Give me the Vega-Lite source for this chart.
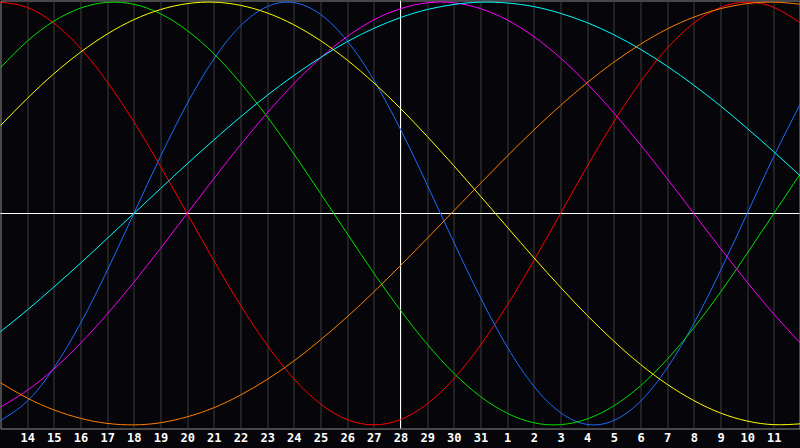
{
  "$schema": "https://vega.github.io/schema/vega-lite/v6.json",
  "width": 799,
  "height": 428,
  "autosize": {"type": "none"},
  "padding": {"left": 0.5, "top": 0.5, "right": 0.5, "bottom": 19.5},
  "background": "#060509",
  "config": {
    "view": {"stroke": "#8a8a8a", "strokeWidth": 1, "fill": "#060509"},
    "axisX": {"grid": true, "gridColor": "#3c3c3c", "gridWidth": 1, "gridOpacity": 1,
      "domain": false, "ticks": false, "title": null,
      "labelColor": "#ffffff", "labelFont": "DejaVu Sans Mono", "labelFontSize": 12, "labelFontWeight": "bold",
      "labelPadding": 4, "labelOverlap": false, "labelBound": false, "labelFlush": false}
  },
  "datasets": {
    "cycles": [
      {"cycle":"Emotional","d":0,"v":1},{"cycle":"Emotional","d":1,"v":0.975},{"cycle":"Emotional","d":2,"v":0.901},{"cycle":"Emotional","d":3,"v":0.782},{"cycle":"Emotional","d":4,"v":0.623},{"cycle":"Emotional","d":5,"v":0.434},{"cycle":"Emotional","d":6,"v":0.223},{"cycle":"Emotional","d":7,"v":0},{"cycle":"Emotional","d":8,"v":-0.223},{"cycle":"Emotional","d":9,"v":-0.434},{"cycle":"Emotional","d":10,"v":-0.623},{"cycle":"Emotional","d":11,"v":-0.782},{"cycle":"Emotional","d":12,"v":-0.901},{"cycle":"Emotional","d":13,"v":-0.975},{"cycle":"Emotional","d":14,"v":-1},{"cycle":"Emotional","d":15,"v":-0.975},{"cycle":"Emotional","d":16,"v":-0.901},{"cycle":"Emotional","d":17,"v":-0.782},{"cycle":"Emotional","d":18,"v":-0.623},{"cycle":"Emotional","d":19,"v":-0.434},{"cycle":"Emotional","d":20,"v":-0.223},{"cycle":"Emotional","d":21,"v":0},{"cycle":"Emotional","d":22,"v":0.223},{"cycle":"Emotional","d":23,"v":0.434},{"cycle":"Emotional","d":24,"v":0.623},{"cycle":"Emotional","d":25,"v":0.782},{"cycle":"Emotional","d":26,"v":0.901},{"cycle":"Emotional","d":27,"v":0.975},{"cycle":"Emotional","d":28,"v":1},{"cycle":"Emotional","d":29,"v":0.975},{"cycle":"Emotional","d":30,"v":0.901},
      {"cycle":"Physical","d":0,"v":-0.979},{"cycle":"Physical","d":1,"v":-0.888},{"cycle":"Physical","d":2,"v":-0.731},{"cycle":"Physical","d":3,"v":-0.52},{"cycle":"Physical","d":4,"v":-0.27},{"cycle":"Physical","d":5,"v":0},{"cycle":"Physical","d":6,"v":0.27},{"cycle":"Physical","d":7,"v":0.52},{"cycle":"Physical","d":8,"v":0.731},{"cycle":"Physical","d":9,"v":0.888},{"cycle":"Physical","d":10,"v":0.979},{"cycle":"Physical","d":11,"v":0.998},{"cycle":"Physical","d":12,"v":0.942},{"cycle":"Physical","d":13,"v":0.817},{"cycle":"Physical","d":14,"v":0.631},{"cycle":"Physical","d":15,"v":0.398},{"cycle":"Physical","d":16,"v":0.136},{"cycle":"Physical","d":17,"v":-0.136},{"cycle":"Physical","d":18,"v":-0.398},{"cycle":"Physical","d":19,"v":-0.631},{"cycle":"Physical","d":20,"v":-0.817},{"cycle":"Physical","d":21,"v":-0.942},{"cycle":"Physical","d":22,"v":-0.998},{"cycle":"Physical","d":23,"v":-0.979},{"cycle":"Physical","d":24,"v":-0.888},{"cycle":"Physical","d":25,"v":-0.731},{"cycle":"Physical","d":26,"v":-0.52},{"cycle":"Physical","d":27,"v":-0.27},{"cycle":"Physical","d":28,"v":0},{"cycle":"Physical","d":29,"v":0.27},{"cycle":"Physical","d":30,"v":0.52},
      {"cycle":"Intellectual","d":0,"v":0.69},{"cycle":"Intellectual","d":1,"v":0.815},{"cycle":"Intellectual","d":2,"v":0.91},{"cycle":"Intellectual","d":3,"v":0.972},{"cycle":"Intellectual","d":4,"v":0.999},{"cycle":"Intellectual","d":5,"v":0.99},{"cycle":"Intellectual","d":6,"v":0.945},{"cycle":"Intellectual","d":7,"v":0.866},{"cycle":"Intellectual","d":8,"v":0.756},{"cycle":"Intellectual","d":9,"v":0.618},{"cycle":"Intellectual","d":10,"v":0.458},{"cycle":"Intellectual","d":11,"v":0.282},{"cycle":"Intellectual","d":12,"v":0.095},{"cycle":"Intellectual","d":13,"v":-0.095},{"cycle":"Intellectual","d":14,"v":-0.282},{"cycle":"Intellectual","d":15,"v":-0.458},{"cycle":"Intellectual","d":16,"v":-0.618},{"cycle":"Intellectual","d":17,"v":-0.756},{"cycle":"Intellectual","d":18,"v":-0.866},{"cycle":"Intellectual","d":19,"v":-0.945},{"cycle":"Intellectual","d":20,"v":-0.99},{"cycle":"Intellectual","d":21,"v":-0.999},{"cycle":"Intellectual","d":22,"v":-0.972},{"cycle":"Intellectual","d":23,"v":-0.91},{"cycle":"Intellectual","d":24,"v":-0.815},{"cycle":"Intellectual","d":25,"v":-0.69},{"cycle":"Intellectual","d":26,"v":-0.541},{"cycle":"Intellectual","d":27,"v":-0.372},{"cycle":"Intellectual","d":28,"v":-0.189},{"cycle":"Intellectual","d":29,"v":0},{"cycle":"Intellectual","d":30,"v":0.189},
      {"cycle":"Intuitive","d":0,"v":-0.916},{"cycle":"Intuitive","d":1,"v":-0.837},{"cycle":"Intuitive","d":2,"v":-0.736},{"cycle":"Intuitive","d":3,"v":-0.614},{"cycle":"Intuitive","d":4,"v":-0.476},{"cycle":"Intuitive","d":5,"v":-0.325},{"cycle":"Intuitive","d":6,"v":-0.165},{"cycle":"Intuitive","d":7,"v":0},{"cycle":"Intuitive","d":8,"v":0.165},{"cycle":"Intuitive","d":9,"v":0.325},{"cycle":"Intuitive","d":10,"v":0.476},{"cycle":"Intuitive","d":11,"v":0.614},{"cycle":"Intuitive","d":12,"v":0.736},{"cycle":"Intuitive","d":13,"v":0.837},{"cycle":"Intuitive","d":14,"v":0.916},{"cycle":"Intuitive","d":15,"v":0.969},{"cycle":"Intuitive","d":16,"v":0.997},{"cycle":"Intuitive","d":17,"v":0.997},{"cycle":"Intuitive","d":18,"v":0.969},{"cycle":"Intuitive","d":19,"v":0.916},{"cycle":"Intuitive","d":20,"v":0.837},{"cycle":"Intuitive","d":21,"v":0.736},{"cycle":"Intuitive","d":22,"v":0.614},{"cycle":"Intuitive","d":23,"v":0.476},{"cycle":"Intuitive","d":24,"v":0.325},{"cycle":"Intuitive","d":25,"v":0.165},{"cycle":"Intuitive","d":26,"v":0},{"cycle":"Intuitive","d":27,"v":-0.165},{"cycle":"Intuitive","d":28,"v":-0.325},{"cycle":"Intuitive","d":29,"v":-0.476},{"cycle":"Intuitive","d":30,"v":-0.614},
      {"cycle":"Spiritual","d":0,"v":-0.559},{"cycle":"Spiritual","d":1,"v":-0.457},{"cycle":"Spiritual","d":2,"v":-0.348},{"cycle":"Spiritual","d":3,"v":-0.235},{"cycle":"Spiritual","d":4,"v":-0.118},{"cycle":"Spiritual","d":5,"v":0},{"cycle":"Spiritual","d":6,"v":0.118},{"cycle":"Spiritual","d":7,"v":0.235},{"cycle":"Spiritual","d":8,"v":0.348},{"cycle":"Spiritual","d":9,"v":0.457},{"cycle":"Spiritual","d":10,"v":0.559},{"cycle":"Spiritual","d":11,"v":0.653},{"cycle":"Spiritual","d":12,"v":0.738},{"cycle":"Spiritual","d":13,"v":0.813},{"cycle":"Spiritual","d":14,"v":0.876},{"cycle":"Spiritual","d":15,"v":0.927},{"cycle":"Spiritual","d":16,"v":0.965},{"cycle":"Spiritual","d":17,"v":0.989},{"cycle":"Spiritual","d":18,"v":1},{"cycle":"Spiritual","d":19,"v":0.996},{"cycle":"Spiritual","d":20,"v":0.979},{"cycle":"Spiritual","d":21,"v":0.947},{"cycle":"Spiritual","d":22,"v":0.903},{"cycle":"Spiritual","d":23,"v":0.846},{"cycle":"Spiritual","d":24,"v":0.777},{"cycle":"Spiritual","d":25,"v":0.697},{"cycle":"Spiritual","d":26,"v":0.607},{"cycle":"Spiritual","d":27,"v":0.509},{"cycle":"Spiritual","d":28,"v":0.403},{"cycle":"Spiritual","d":29,"v":0.292},{"cycle":"Spiritual","d":30,"v":0.177},
      {"cycle":"Awareness","d":0,"v":-0.801},{"cycle":"Awareness","d":1,"v":-0.873},{"cycle":"Awareness","d":2,"v":-0.929},{"cycle":"Awareness","d":3,"v":-0.969},{"cycle":"Awareness","d":4,"v":-0.993},{"cycle":"Awareness","d":5,"v":-1},{"cycle":"Awareness","d":6,"v":-0.99},{"cycle":"Awareness","d":7,"v":-0.962},{"cycle":"Awareness","d":8,"v":-0.919},{"cycle":"Awareness","d":9,"v":-0.859},{"cycle":"Awareness","d":10,"v":-0.785},{"cycle":"Awareness","d":11,"v":-0.698},{"cycle":"Awareness","d":12,"v":-0.598},{"cycle":"Awareness","d":13,"v":-0.489},{"cycle":"Awareness","d":14,"v":-0.371},{"cycle":"Awareness","d":15,"v":-0.246},{"cycle":"Awareness","d":16,"v":-0.118},{"cycle":"Awareness","d":17,"v":0.013},{"cycle":"Awareness","d":18,"v":0.143},{"cycle":"Awareness","d":19,"v":0.271},{"cycle":"Awareness","d":20,"v":0.395},{"cycle":"Awareness","d":21,"v":0.511},{"cycle":"Awareness","d":22,"v":0.619},{"cycle":"Awareness","d":23,"v":0.716},{"cycle":"Awareness","d":24,"v":0.801},{"cycle":"Awareness","d":25,"v":0.873},{"cycle":"Awareness","d":26,"v":0.929},{"cycle":"Awareness","d":27,"v":0.969},{"cycle":"Awareness","d":28,"v":0.993},{"cycle":"Awareness","d":29,"v":1},{"cycle":"Awareness","d":30,"v":0.99},
      {"cycle":"Aesthetic","d":0,"v":0.416},{"cycle":"Aesthetic","d":1,"v":0.544},{"cycle":"Aesthetic","d":2,"v":0.661},{"cycle":"Aesthetic","d":3,"v":0.763},{"cycle":"Aesthetic","d":4,"v":0.849},{"cycle":"Aesthetic","d":5,"v":0.917},{"cycle":"Aesthetic","d":6,"v":0.965},{"cycle":"Aesthetic","d":7,"v":0.993},{"cycle":"Aesthetic","d":8,"v":1},{"cycle":"Aesthetic","d":9,"v":0.985},{"cycle":"Aesthetic","d":10,"v":0.949},{"cycle":"Aesthetic","d":11,"v":0.893},{"cycle":"Aesthetic","d":12,"v":0.818},{"cycle":"Aesthetic","d":13,"v":0.726},{"cycle":"Aesthetic","d":14,"v":0.618},{"cycle":"Aesthetic","d":15,"v":0.497},{"cycle":"Aesthetic","d":16,"v":0.365},{"cycle":"Aesthetic","d":17,"v":0.226},{"cycle":"Aesthetic","d":18,"v":0.082},{"cycle":"Aesthetic","d":19,"v":-0.064},{"cycle":"Aesthetic","d":20,"v":-0.209},{"cycle":"Aesthetic","d":21,"v":-0.349},{"cycle":"Aesthetic","d":22,"v":-0.482},{"cycle":"Aesthetic","d":23,"v":-0.604},{"cycle":"Aesthetic","d":24,"v":-0.714},{"cycle":"Aesthetic","d":25,"v":-0.808},{"cycle":"Aesthetic","d":26,"v":-0.885},{"cycle":"Aesthetic","d":27,"v":-0.944},{"cycle":"Aesthetic","d":28,"v":-0.982},{"cycle":"Aesthetic","d":29,"v":-0.999},{"cycle":"Aesthetic","d":30,"v":-0.995}
    ],
    "zero": [{"v": 0}],
    "today": [{"d": 15}]
  },
  "layer": [
    {
      "data": {"name": "today"},
      "mark": {"type": "rule", "color": "#ffffff", "strokeWidth": 1},
      "encoding": {
        "x": {"field": "d", "type": "quantitative", "scale": {"domain": [0, 29.9625], "nice": false, "zero": false},
          "axis": {"values": [1,2,3,4,5,6,7,8,9,10,11,12,13,14,15,16,17,18,19,20,21,22,23,24,25,26,27,28,29],
            "labelExpr": "datum.value + 13 > 31 ? datum.value - 18 : datum.value + 13",
            "labelOverlap": false, "labelFontSize": 12, "labelFontWeight": "bold"}}
      }
    },
    {
      "data": {"name": "zero"},
      "mark": {"type": "rule", "color": "#ffffff", "strokeWidth": 1},
      "encoding": {
        "y": {"field": "v", "type": "quantitative", "scale": {"domain": [-1.0172, 1.0078], "nice": false, "zero": false}, "axis": null}
      }
    },
    {
      "data": {"name": "cycles"},
      "mark": {"type": "line", "strokeWidth": 1, "interpolate": "natural"},
      "encoding": {
        "x": {"field": "d", "type": "quantitative",
          "axis": {"values": [1,2,3,4,5,6,7,8,9,10,11,12,13,14,15,16,17,18,19,20,21,22,23,24,25,26,27,28,29],
            "labelExpr": "datum.value + 13 > 31 ? datum.value - 18 : datum.value + 13",
            "labelOverlap": false, "labelFontSize": 12, "labelFontWeight": "bold"}},
        "y": {"field": "v", "type": "quantitative"},
        "detail": {"field": "cycle"},
        "color": {"field": "cycle", "type": "nominal", "legend": null,
          "scale": {"domain": ["Physical","Emotional","Intellectual","Intuitive","Aesthetic","Awareness","Spiritual"],
                    "range": ["#1a6cff","#ff0000","#00e000","#ff00ff","#ffff00","#ff8000","#00ffff"]}}
      }
    }
  ]
}
